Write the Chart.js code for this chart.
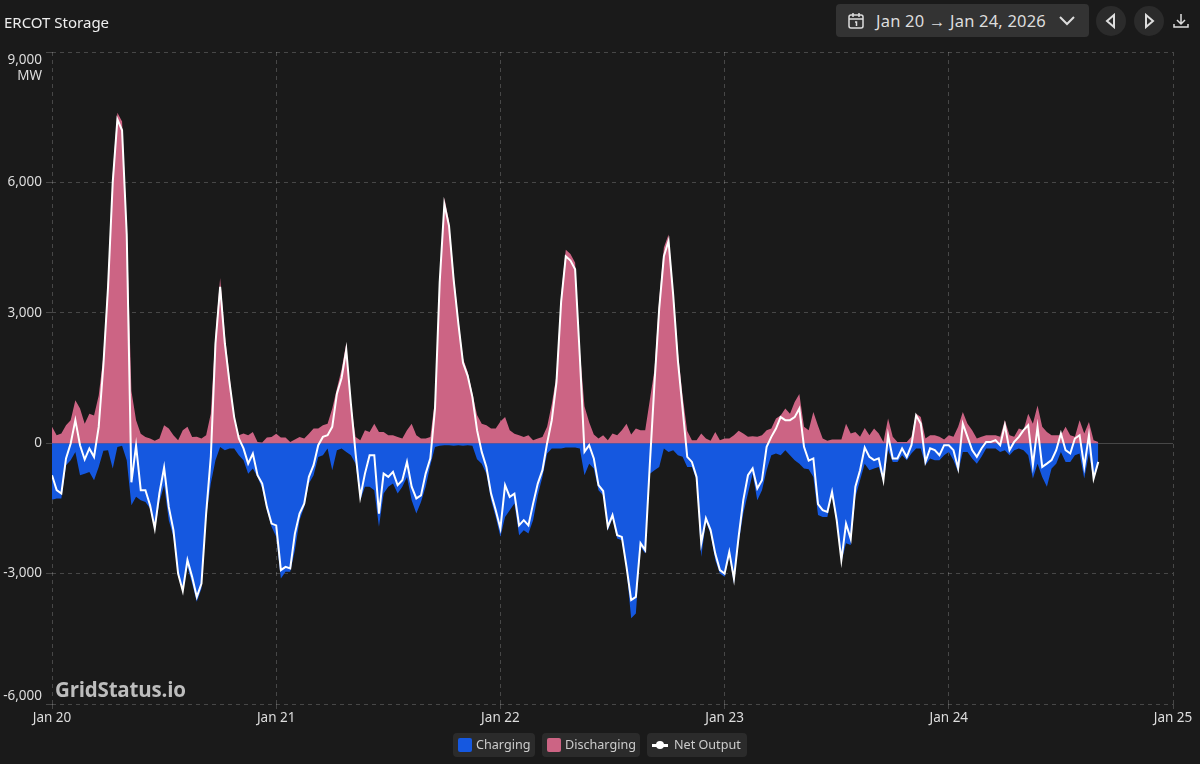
<!DOCTYPE html>
<html>
<head>
<meta charset="utf-8">
<title>ERCOT Storage</title>
<script src="https://cdn.jsdelivr.net/npm/chart.js@4/dist/chart.umd.min.js"></script>
<style>
    html, body { margin: 0; width: 1200px; height: 764px; background: #1a1a1a; overflow: hidden; font-family: "Noto Sans", sans-serif; color: #e6e6e6; }
    #chartWrap { position: absolute; left: 0; top: 0; width: 1200px; height: 764px; }
    #title { position: absolute; left: 4px; top: 12px; font-size: 15px; line-height: 20px; color: #eee; }
    #dateBtn { position: absolute; left: 836px; top: 4px; width: 253px; height: 33px; background: #333; border-radius: 4px; box-sizing: border-box; font-size: 16.5px; line-height: 34px; padding-left: 40px; letter-spacing: 0.2px; color: #ddd; white-space: nowrap; }
    #dateBtn svg.cal { position: absolute; left: 11px; top: 8px; }
    #dateBtn svg.chev { position: absolute; left: 222px; top: 11px; }
    .round { position: absolute; top: 6px; width: 30px; height: 30px; border-radius: 50%; background: #2b2b2b; }
    .round svg { position: absolute; left: 8px; top: 7px; }
    #download { position: absolute; left: 1173px; top: 13px; }
    #watermark { position: absolute; left: 55px; top: 675px; font-size: 20.5px; line-height: 28px; font-weight: 700; color: #bdbdbd; font-family: "Open Sans", sans-serif; letter-spacing: -0.2px; }
    .legendItem { position: absolute; top: 733px; height: 24px; background: #2b2b2b; border-radius: 4px; font-size: 12.6px; line-height: 24px; color: #ccc; box-sizing: border-box; }
    .legendItem i { position: absolute; left: 5px; top: 5px; width: 14px; height: 14px; border-radius: 2px; }
    .legendItem span { position: absolute; left: 23px; white-space: nowrap; }
</style>
</head>
<body>
<div id="chartWrap"><canvas id="storageChart"></canvas></div>
<div id="title">ERCOT Storage</div>
<div id="dateBtn">
    <svg class="cal" width="18" height="18" viewBox="0 0 18 18" fill="none" stroke="#ddd" stroke-width="1.5"><rect x="2" y="3" width="14" height="13" rx="2"/><path d="M2 7h14M6 1v4M12 1v4M8 10h1.5v4"/></svg>
    Jan 20 → Jan 24, 2026
    <svg class="chev" width="18" height="12" viewBox="0 0 18 12" fill="none" stroke="#ddd" stroke-width="2"><path d="M2 2l7 7 7-7"/></svg>
</div>
<div class="round" style="left:1096px"><svg width="14" height="16" viewBox="0 0 14 16" fill="none" stroke="#ddd" stroke-width="2"><path d="M10 2v12L3 8z"/></svg></div>
<div class="round" style="left:1134px"><svg width="14" height="16" viewBox="0 0 14 16" fill="none" stroke="#ddd" stroke-width="2"><path d="M4 2v12l7-6z"/></svg></div>
<svg id="download" width="16" height="16" viewBox="0 0 16 16" fill="none" stroke="#ddd" stroke-width="1.5"><path d="M8 1v9M4 7l4 4 4-4M1 11v3h14v-3"/></svg>
<div id="watermark">GridStatus.io</div>
<div class="legendItem" style="left:453px;width:82px"><i style="background:#1558e0"></i><span>Charging</span></div>
<div class="legendItem" style="left:542px;width:98px"><i style="background:#cc6484"></i><span>Discharging</span></div>
<div class="legendItem" style="left:647px;width:100px"><i style="left:5px;top:11px;width:16px;height:2.5px;background:#fff;border-radius:0"></i><i style="left:9px;top:8px;width:8px;height:8px;background:#fff;border-radius:50%"></i><span style="left:27px">Net Output</span></div>

<script>
    // Half-hourly values in MW, starting Jan 20 00:00
    const stepHours = 0.5;
    const dayLabels = ['Jan 20', 'Jan 21', 'Jan 22', 'Jan 23', 'Jan 24', 'Jan 25'];

    const discharging = [
        376, 184, 222, 414, 530, 990, 800, 450, 680, 640,
        1100, 2000, 3800, 6200, 7600, 7400, 5000, 1200, 530, 220,
        145, 107, 55, 107, 414, 340, 184, 70, 300, 380,
        145, 146, 107, 184, 680, 2500, 3800, 2500, 1550, 600,
        184, 222, 184, 260, 30, 15, 130, 145, 220, 130,
        130, 30, 85, 145, 107, 220, 337, 337, 414, 450,
        800, 1260, 1700, 2300, 900, 145, 70, 300, 260, 450,
        260, 260, 184, 184, 145, 107, 300, 450, 184, 107,
        107, 145, 1000, 3800, 5650, 5100, 3900, 2850, 1950, 1640,
        1150, 650, 450, 414, 337, 337, 500, 600, 300, 220,
        184, 145, 184, 70, 107, 145, 380, 900, 1550, 3400,
        4450, 4350, 4150, 2140, 850, 480, 200, 107, 184, 70,
        222, 184, 300, 450, 200, 337, 300, 300, 1000, 1700,
        3300, 4500, 4800, 3500, 2100, 1100, 280, 70, 70, 222,
        107, 55, 260, 70, 107, 107, 184, 284, 222, 146,
        160, 146, 184, 300, 337, 570, 640, 800, 680, 950,
        1130, 376, 300, 720, 400, 107, 55, 85, 85, 85,
        450, 222, 260, 146, 350, 184, 337, 222, 30, 570,
        146, 30, 30, 30, 146, 680, 600, 107, 184, 184,
        146, 85, 184, 146, 376, 720, 450, 300, 107, 146,
        184, 184, 184, 146, 530, 184, 146, 337, 300, 680,
        450, 870, 376, 260, 184, 184, 184, 376, 184, 146,
        530, 222, 490, 70, 30
    ];

    const charging = [
        -1300, -1270, -1270, -506, -390, -200, -736, -700, -660, -850,
        -545, -176, -160, -580, -85, -60, -390, -1426, -1234, -1310,
        -1350, -1500, -2000, -1350, -970, -1770, -2150, -3075, -3300, -2845,
        -3230, -3650, -3340, -1700, -930, -390, -85, -160, -120, -120,
        -276, -390, -700, -580, -775, -1040, -1540, -1925, -2150, -3115,
        -2960, -2960, -2460, -1770, -1465, -930, -736, -315, -276, -123,
        -620, -160, -123, -200, -276, -470, -1310, -1000, -1000, -1080,
        -1925, -1160, -1000, -930, -1160, -1000, -775, -1310, -1620, -1350,
        -1000, -506, -85, -60, -50, -50, -60, -50, -60, -50,
        -60, -370, -470, -700, -1310, -1700, -2155, -1700, -1540, -1390,
        -2115, -2000, -2080, -1770, -1200, -775, -237, -123, -120, -120,
        -100, -100, -100, -120, -736, -470, -580, -1080, -1200, -2000,
        -1730, -2190, -2230, -2920, -4030, -3920, -2385, -2540, -700, -620,
        -545, -120, -200, -160, -276, -314, -545, -545, -850, -2615,
        -1810, -2080, -2690, -3000, -3075, -2615, -3230, -2300, -1620, -1160,
        -700, -1310, -1080, -620, -276, -237, -276, -160, -276, -390,
        -470, -580, -600, -775, -1650, -1695, -1695, -1200, -1850, -2730,
        -2300, -2340, -1235, -850, -470, -620, -580, -545, -890, -150,
        -430, -430, -276, -390, -237, -120, -120, -506, -350, -390,
        -390, -276, -200, -390, -660, -200, -200, -350, -470, -314,
        -120, -120, -120, -200, -160, -276, -160, -120, -160, -276,
        -810, -470, -775, -1000, -580, -470, -200, -430, -430, -276,
        -237, -810, -237, -850, -506
    ];

    const netOutput = [
        -736, -1080, -1158, -350, -8, 530, -46, -375, -120, -314,
        375, 1800, 3600, 6000, 7450, 7200, 4800, -900, -50, -1080,
        -1080, -1426, -1960, -1150, -560, -1465, -2000, -3000, -3400, -2690,
        -3075, -3535, -3230, -1620, -314, 2300, 3600, 2300, 1400, 600,
        107, -120, -470, -240, -736, -930, -1465, -1850, -1890, -2920,
        -2845, -2880, -2080, -1620, -1390, -775, -506, -46, 145, 184,
        376, 1140, 1500, 2150, 900, -240, -1235, -700, -276, -276,
        -1620, -700, -775, -660, -966, -850, -430, -1000, -1270, -1200,
        -700, -350, 800, 3700, 5500, 5000, 3750, 2750, 1850, 1550,
        1066, 300, -200, -545, -1160, -1540, -1960, -966, -1235, -1160,
        -1890, -1770, -1890, -1390, -930, -620, 0, 530, 1400, 3250,
        4300, 4200, 4000, 2000, -200, -46, -350, -966, -1100, -1925,
        -1656, -2115, -2155, -2845, -3610, -3535, -2300, -2460, -470, 1400,
        3100, 4300, 4650, 3400, 1900, 800, -314, -430, -775, -2300,
        -1730, -2000, -2540, -2920, -3000, -2500, -3115, -2155, -1310, -736,
        -580, -1040, -850, -84, 146, 337, 600, 530, 530, 600,
        800, -84, -400, -350, -1400, -1540, -1580, -1120, -1770, -2690,
        -1850, -2200, -1000, -620, -100, -314, -390, -350, -850, 184,
        -350, -350, -120, -314, -46, 640, 450, -430, -120, -160,
        -276, -46, -46, -160, -580, 450, 146, -160, -314, -120,
        30, 30, 70, -46, 414, -160, 30, 146, 300, 414,
        -506, 376, -545, -470, -390, -160, 222, -160, -237, 107,
        184, -545, 184, -810, -430
    ];

    const toPoints = values => values.map((v, i) => ({ x: i * stepHours, y: v }));
    const gridColor = 'rgba(255,255,255,0.2)';
    const tickFont = { family: '"Noto Sans", sans-serif', size: 13.5 };

    new Chart(document.getElementById('storageChart'), {
        type: 'line',
        data: {
            datasets: [
                { label: 'Net Output', data: toPoints(netOutput), borderColor: '#fff', borderWidth: 2, pointRadius: 0, fill: false, order: 0 },
                { label: 'Discharging', data: toPoints(discharging), borderWidth: 0, backgroundColor: '#cc6484', pointRadius: 0, fill: 'origin', order: 1 },
                { label: 'Charging', data: toPoints(charging), borderWidth: 0, backgroundColor: '#1558e0', pointRadius: 0, fill: 'origin', order: 2 }
            ]
        },
        options: {
            responsive: true,
            maintainAspectRatio: false,
            animation: false,
            layout: { padding: { top: 52, right: 27 } },
            plugins: { legend: { display: false }, tooltip: { enabled: false } },
            scales: {
                x: {
                    type: 'linear',
                    min: 0,
                    max: 120,
                    afterFit: scale => { scale.height = 60; },
                    ticks: {
                        stepSize: 24,
                        color: '#ddd',
                        font: tickFont,
                        padding: 1,
                        maxRotation: 0,
                        callback: value => dayLabels[value / 24]
                    },
                    grid: { color: gridColor, tickLength: 5 },
                    border: { display: false, dash: [4, 4] }
                },
                y: {
                    min: -6000,
                    max: 9000,
                    afterFit: scale => { scale.width = 52; },
                    ticks: {
                        stepSize: 3000,
                        color: '#ddd',
                        font: tickFont,
                        padding: 4,
                        // blank lines push the end labels inward of their gridlines
                        callback: value => {
                            const text = value.toLocaleString('en-US');
                            if (value === 9000) return ['', '', text, 'MW'];
                            if (value === -6000) return [text, ''];
                            return text;
                        }
                    },
                    grid: { color: gridColor, tickLength: 6 },
                    border: {
                        display: false,
                        dash: ctx => (ctx.tick && ctx.tick.value === 0 ? [] : [4, 4])
                    }
                }
            }
        }
    });
</script>
</body>
</html>
